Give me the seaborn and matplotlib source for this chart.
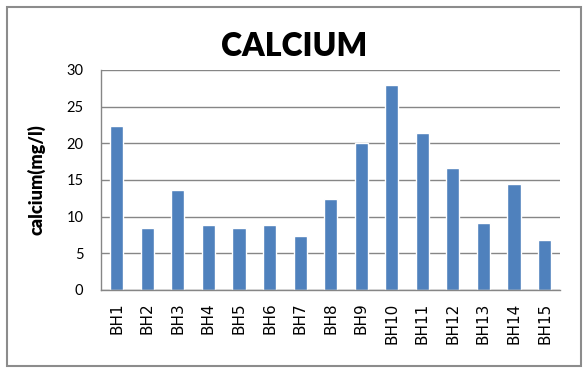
import numpy as np
import pandas as pd
import seaborn as sns
from matplotlib import pyplot as plt
from matplotlib.patches import Rectangle

# data
sites = ['BH1', 'BH2', 'BH3', 'BH4', 'BH5', 'BH6', 'BH7', 'BH8',
         'BH9', 'BH10', 'BH11', 'BH12', 'BH13', 'BH14', 'BH15']
calcium = [22.4, 8.5, 13.7, 8.8, 8.5, 8.9, 7.4, 12.4,
           20.0, 27.9, 21.4, 16.7, 9.2, 14.5, 6.8]
yticks = [0, 5, 10, 15, 20, 25, 30]

df = pd.DataFrame({'site': sites, 'calcium': calcium})

sns.set_style('white')
plt.rcParams['font.family'] = ['Lato', 'DejaVu Sans']
plt.rcParams['text.color'] = 'black'
plt.rcParams['axes.labelcolor'] = 'black'
plt.rcParams['xtick.color'] = 'black'
plt.rcParams['ytick.color'] = 'black'

fig = plt.figure(figsize=(5.85, 3.69), dpi=100)
ax = fig.add_axes([0.1735, 0.2141, 0.957 - 0.1735, 0.8103 - 0.2141])

sns.barplot(data=df, x='site', y='calcium', color='#4F81BD', saturation=1,
            width=0.43, ax=ax)

ax.set_ylim(0, 30)
ax.set_xlim(-0.5, len(sites) - 0.5)
ax.set_yticks(yticks)
ax.set_yticklabels([str(t) for t in yticks], fontsize=10.5, color='black')
ax.yaxis.grid(True, color='#868686', linewidth=1.0)
ax.set_axisbelow(True)
ax.tick_params(axis='both', length=0)
ax.tick_params(axis='y', pad=13)
ax.tick_params(axis='x', pad=9)
for lab in ax.get_xticklabels():
    lab.set_rotation(90)
    lab.set_family('DejaVu Sans')
    lab.set_fontsize(11)
    lab.set_color('black')
    lab.set_va('top')

for side in ['top', 'right']:
    ax.spines[side].set_visible(False)
for side in ['left', 'bottom']:
    ax.spines[side].set_color('#868686')
    ax.spines[side].set_linewidth(1.0)

ax.set_xlabel('')
ax.set_ylabel('calcium(mg/l)', fontsize=13, fontweight='heavy')
ax.yaxis.set_label_coords(-0.122, 0.5)

fig.text(0.503, 0.848, 'CALCIUM', ha='center', va='baseline',
         fontsize=23, fontweight='heavy')

# outer chart border
fig.patches.append(Rectangle((0.012, 0.008), 0.981, 0.973, transform=fig.transFigure,
                             fill=False, edgecolor='#8c8c8c', linewidth=1.5))

fig.savefig('out.png', dpi=100)
